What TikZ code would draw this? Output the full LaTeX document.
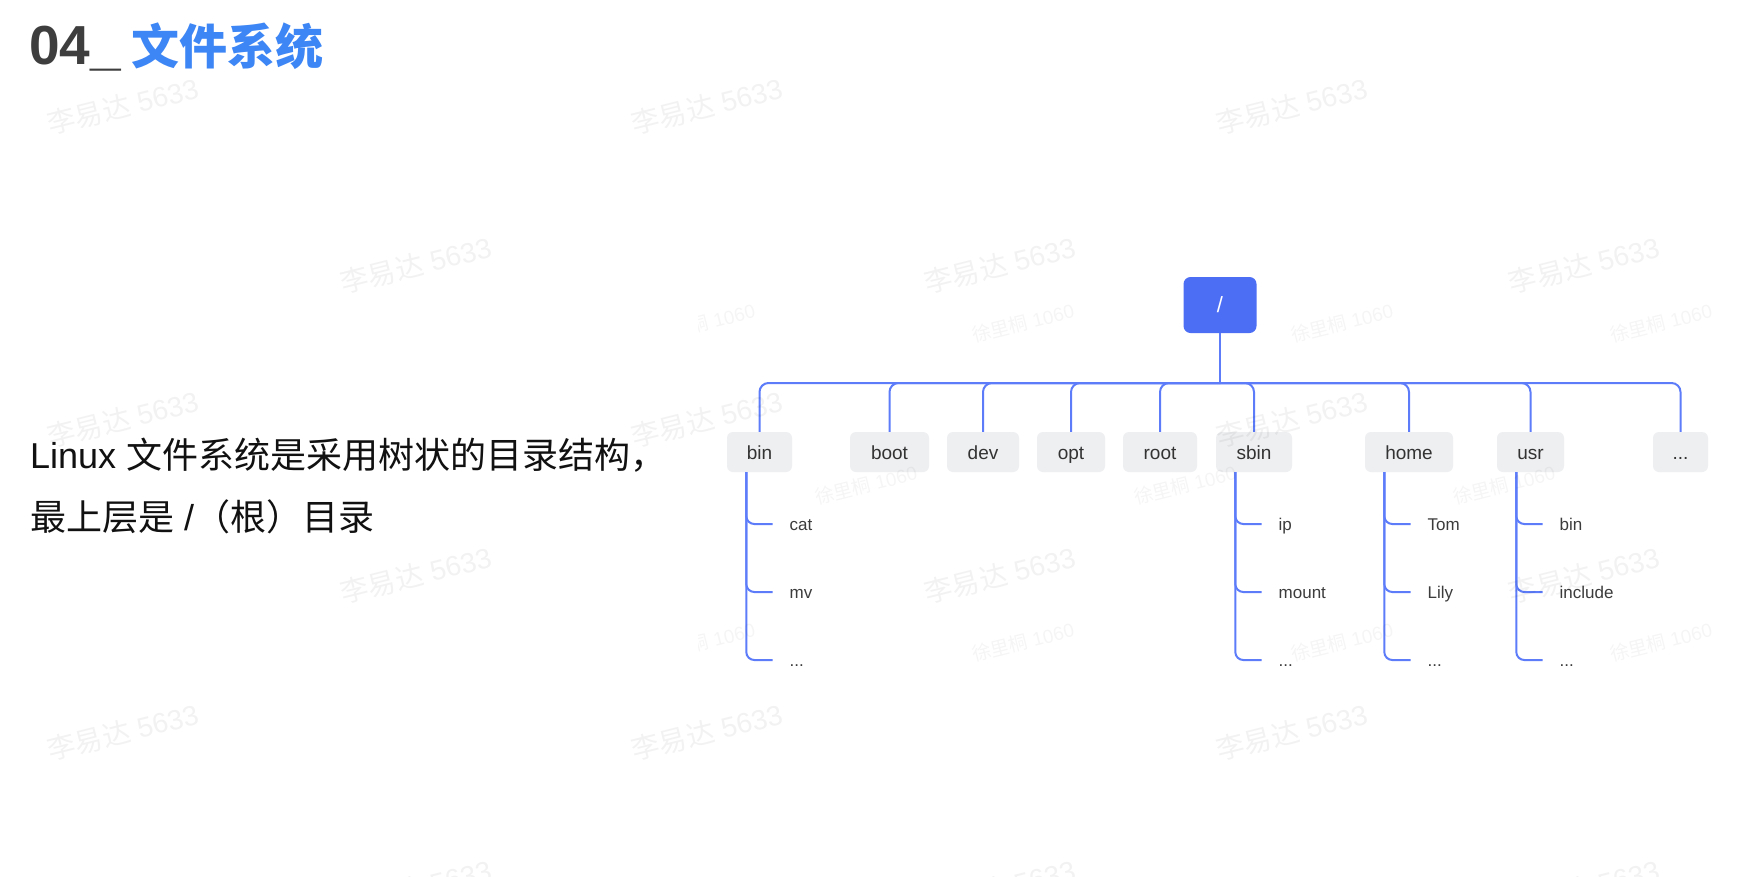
\documentclass[tikz,border=0pt]{standalone}
\usepackage{fontspec}
\setmainfont{Liberation Sans}
\newfontfamily\cjk{Noto Sans CJK SC}
\usetikzlibrary{calc}
\pgfdeclarelayer{background}
\pgfsetlayers{background,main}

\definecolor{linecol}{RGB}{92,124,250}
\definecolor{rootfill}{RGB}{76,110,245}
\definecolor{boxfill}{RGB}{238,239,241}
\definecolor{boxtext}{RGB}{51,51,51}
\definecolor{leaftext}{RGB}{60,60,60}
\definecolor{titledark}{RGB}{62,62,62}
\definecolor{titleblue}{RGB}{61,134,246}
\definecolor{bodytext}{RGB}{17,17,17}

\begin{document}
\begin{tikzpicture}[x=1pt,y=-1pt,
  conn/.style={draw=linecol, line width=2pt, rounded corners=9pt},
  rootbox/.style={rectangle, rounded corners=7pt, fill=rootfill, minimum width=73pt,
    minimum height=56pt, inner sep=0pt, text=white, font=\fontsize{22}{24}\selectfont},
  dirbox/.style={rectangle, rounded corners=6pt, fill=boxfill, minimum height=40pt,
    inner sep=0pt, text=boxtext, font=\fontsize{19}{22}\selectfont,
    text height=17pt, text depth=3pt},
  leaf/.style={anchor=west, inner sep=0pt, text=leaftext,
    font=\fontsize{17}{20}\selectfont, text height=14pt, text depth=2pt},
  markA/.style={rotate=14, inner sep=0pt, text=black, text opacity=0.05,
    font=\fontsize{28}{30}\selectfont},
  markB/.style={rotate=14, inner sep=0pt, text=black, text opacity=0.04,
    font=\fontsize{19}{22}\selectfont},
]
\clip (0,0) rectangle (1752,876);
\fill[white] (0,0) rectangle (1752,876);

% heading
\node[anchor=base west, inner sep=0pt, text=titledark,
  font=\bfseries\fontsize{55}{60}\selectfont] (title) at (29,64) {04\_};
\node[anchor=base west, inner sep=0pt, text=titleblue,
  font=\cjk\bfseries\fontsize{48}{52}\selectfont] (titlecn) at (131,64) {文件系统};

% explanatory text
\node[anchor=base west, inner sep=0pt, text=bodytext,
  font=\fontsize{36}{40}\selectfont] (line1) at (30,468)
  {Linux {\cjk 文件系统是采用树状的目录结构，}};
\node[anchor=base west, inner sep=0pt, text=bodytext,
  font=\fontsize{36}{40}\selectfont] (line2) at (30,530)
  {{\cjk 最上层是} /{\cjk （根）目录}};

% root directory
\node[rootbox] (top) at (1220,305) {/};
\begin{pgfonlayer}{background}
  \foreach \g [evaluate=\g as \rc using 7+\g] in {2,4,6,8,10}
    \fill[rootfill, opacity=0.035, rounded corners=\rc pt]
      ($(top.south west)+(-\g,\g+2)$) rectangle ($(top.north east)+(\g,-\g+2)$);
\end{pgfonlayer}

% first level
\node[dirbox, minimum width=65pt] (dbin)  at (759.5,452) {bin};
\node[dirbox, minimum width=79pt] (dboot) at (889.5,452) {boot};
\node[dirbox, minimum width=72pt] (ddev)  at (983,452)   {dev};
\node[dirbox, minimum width=68pt] (dopt)  at (1071,452)  {opt};
\node[dirbox, minimum width=74pt] (droot) at (1160,452)  {root};
\node[dirbox, minimum width=76pt] (dsbin) at (1254,452)  {sbin};
\node[dirbox, minimum width=88pt] (dhome) at (1409,452)  {home};
\node[dirbox, minimum width=67pt] (dusr)  at (1530.5,452) {usr};
\node[dirbox, minimum width=55pt] (dmore) at (1680.5,452) {...};

\coordinate (hub) at (1220,383);
\draw[conn] (top.south) -- (hub);
\foreach \c in {dbin,dboot,ddev,dopt,droot,dsbin,dhome,dusr,dmore}
  \draw[conn] (hub) -| (\c.north);

% second level
\node[leaf] (bcat)  at (789.5,524)  {cat};
\node[leaf] (bmv)   at (789.5,592)  {mv};
\node[leaf] (bmore) at (789.5,660)  {...};
\node[leaf] (sip)    at (1278.5,524) {ip};
\node[leaf] (smount) at (1278.5,592) {mount};
\node[leaf] (smore)  at (1278.5,660) {...};
\node[leaf] (htom)  at (1427.5,524) {Tom};
\node[leaf] (hlily) at (1427.5,592) {Lily};
\node[leaf] (hmore) at (1427.5,660) {...};
\node[leaf] (ubin)  at (1559.5,524) {bin};
\node[leaf] (uinc)  at (1559.5,592) {include};
\node[leaf] (umore) at (1559.5,660) {...};

\coordinate (binstem)  at ([xshift=19.5pt]dbin.south west);
\coordinate (sbinstem) at ([xshift=19.5pt]dsbin.south west);
\coordinate (homestem) at ([xshift=19.5pt]dhome.south west);
\coordinate (usrstem)  at ([xshift=19.5pt]dusr.south west);
\foreach \s/\l in {binstem/bcat,binstem/bmv,binstem/bmore,
                   sbinstem/sip,sbinstem/smount,sbinstem/smore,
                   homestem/htom,homestem/hlily,homestem/hmore,
                   usrstem/ubin,usrstem/uinc,usrstem/umore}
  \draw[conn, rounded corners=8pt] (\s) |- ([xshift=-17pt]\l.west);

% watermarks inside the tree panel
\begin{scope}
  \clip (698,240) rectangle (1745,700);
  \foreach \p [count=\i] in {(704,323),(1023,323),(1342,323),(1661,323),
                  (866,485),(1185,485),(1504,485),
                  (704,642),(1023,642),(1342,642),(1661,642)}
    \node[markB] (wb\i) at \p {{\cjk 徐里桐} 1060};
\end{scope}

% page watermarks
\foreach \p [count=\i] in {(123,106),(707,106),(1292,106),
                (416,265),(1000,265),(1584,265),
                (123,419),(707,419),(1292,419),
                (416,575),(1000,575),(1584,575),
                (123,732),(707,732),(1292,732),
                (416,888),(1000,888),(1584,888)}
  \node[markA] (wa\i) at \p {{\cjk 李易达} 5633};
\end{tikzpicture}
\end{document}
